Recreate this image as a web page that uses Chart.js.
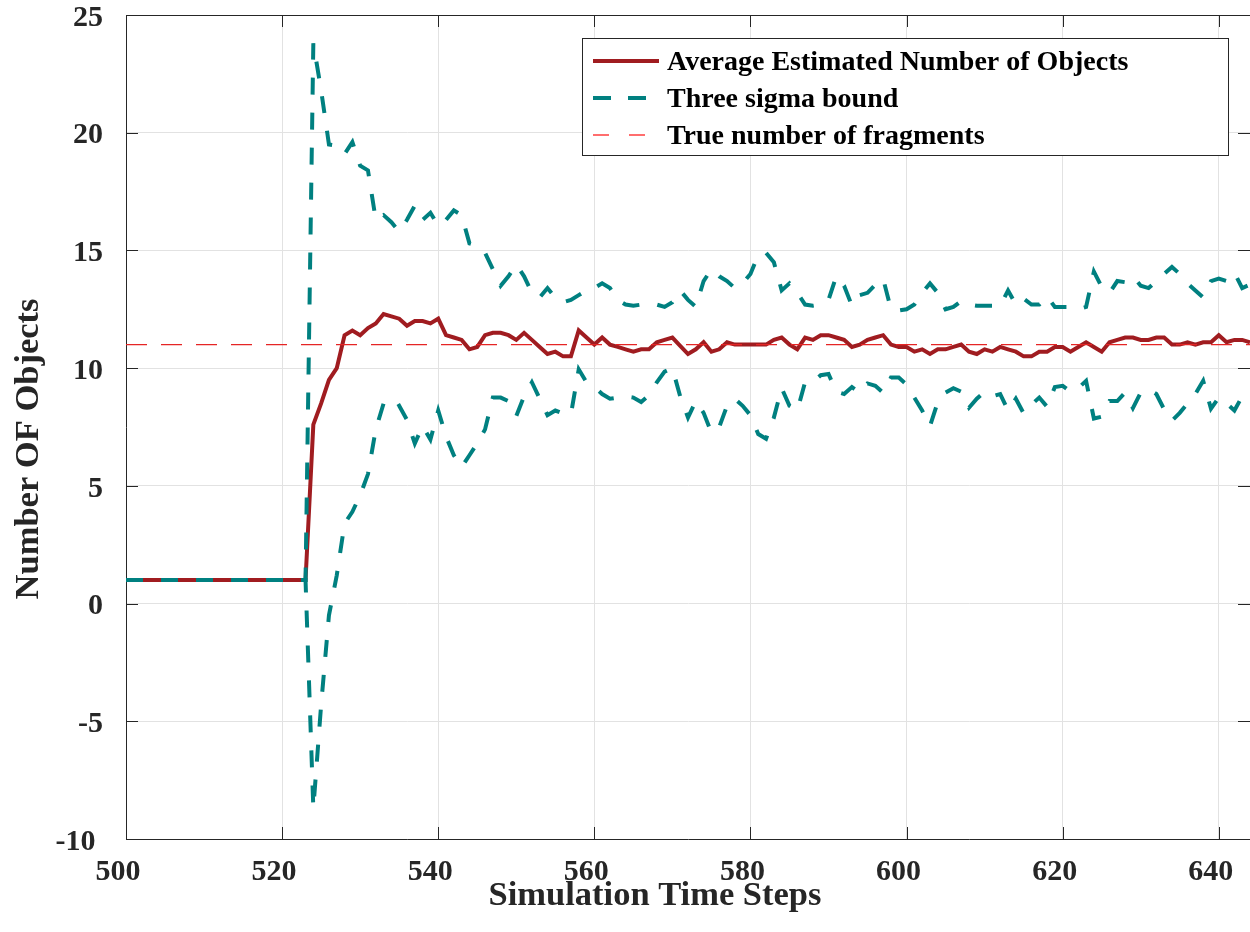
<!DOCTYPE html>
<html><head><meta charset="utf-8">
<script src="https://cdn.jsdelivr.net/npm/chart.js@4.4.1/dist/chart.umd.min.js"></script>
<style>html,body{margin:0;padding:0;background:#fff;overflow:hidden}canvas{display:block}</style>
</head><body>
<canvas id="c" width="1250" height="932"></canvas>
<script>
const timeSteps = [
500,501,502,503,504,505,506,507,508,509,510,511,512,513,514,515,516,517,518,519,
520,521,522,523,524,525,526,527,528,529,530,531,532,533,534,535,536,537,538,539,
540,541,542,543,544,545,546,547,548,549,550,551,552,553,554,555,556,557,558,559,
560,561,562,563,564,565,566,567,568,569,570,571,572,573,574,575,576,577,578,579,
580,581,582,583,584,585,586,587,588,589,590,591,592,593,594,595,596,597,598,599,
600,601,602,603,604,605,606,607,608,609,610,611,612,613,614,615,616,617,618,619,
620,621,622,623,624,625,626,627,628,629,630,631,632,633,634,635,636,637,638,639,
640,641,642,643,644];

const meanEstimate = [
1,1,1,1,1,1,1,1,1,1,1,1,1,1,1,1,1,1,1,1,
1,1,1,1,7.6,8.5,9.5,10.0,11.4,11.6,11.4,11.7,11.9,12.3,12.2,12.1,11.8,12.0,12.0,11.9,
12.1,11.4,11.3,11.2,10.8,10.9,11.4,11.5,11.5,11.4,11.2,11.5,11.2,10.9,10.6,10.7,10.5,10.5,11.6,11.3,
11.0,11.3,11.0,10.9,10.8,10.7,10.8,10.8,11.1,11.2,11.3,10.95,10.6,10.8,11.1,10.7,10.8,11.1,11.0,11.0,
11.0,11.0,11.0,11.2,11.3,11.0,10.8,11.3,11.2,11.4,11.4,11.3,11.2,10.9,11.0,11.2,11.3,11.4,11.0,10.9,
10.9,10.7,10.8,10.6,10.8,10.8,10.9,11.0,10.7,10.6,10.8,10.7,10.9,10.8,10.7,10.5,10.5,10.7,10.7,10.9,
10.9,10.7,10.9,11.1,10.9,10.7,11.1,11.2,11.3,11.3,11.2,11.2,11.3,11.3,11.0,11.0,11.1,11.0,11.1,11.1,
11.4,11.1,11.2,11.2,11.1];

const upperBound = [
1,1,1,1,1,1,1,1,1,1,1,1,1,1,1,1,1,1,1,1,
1,1,1,1,23.8,21.8,19.5,19.45,19.1,19.6,18.6,18.4,16.3,16.5,16.2,15.8,16.3,16.9,16.3,16.6,
16.05,16.3,16.7,16.5,15.3,15.2,14.9,14.2,13.5,13.9,14.4,13.9,13.2,13.0,13.4,13.0,12.8,12.9,13.1,13.3,
13.4,13.6,13.4,12.9,12.7,12.65,12.7,12.7,12.7,12.6,12.8,13.3,12.9,12.6,13.7,14.2,13.9,13.7,13.4,13.6,
14.0,14.8,14.9,14.5,13.3,13.6,13.2,12.7,12.65,12.7,12.9,13.9,13.5,12.65,13.1,13.2,13.55,13.8,12.5,12.45,
12.5,12.7,13.2,13.6,13.2,12.5,12.6,12.85,12.7,12.65,12.65,12.65,12.65,13.3,12.7,12.95,12.7,12.7,13.05,12.6,
12.6,12.6,12.5,12.6,14.1,13.45,13.2,13.7,13.65,13.9,13.5,13.4,13.7,14.0,14.3,14.0,13.6,13.3,13.0,13.7,
13.8,13.7,14.05,13.4,13.55];

const lowerBound = [
1,1,1,1,1,1,1,1,1,1,1,1,1,1,1,1,1,1,1,1,
1,1,1,1,-8.7,-4.3,-0.5,1.2,3.4,3.9,4.6,5.5,7.4,8.5,8.2,8.4,7.8,6.8,7.55,6.97,
8.2,7.1,6.3,5.8,6.3,6.8,7.4,8.75,8.75,8.6,7.97,8.8,9.4,8.7,8.0,8.2,8.07,8.04,9.95,9.4,
9.2,8.9,8.7,8.75,8.8,8.75,8.56,8.85,9.4,9.85,10.0,8.8,7.9,8.6,8.1,7.26,7.5,8.4,8.7,8.4,
8.0,7.2,7.0,7.9,9.15,8.4,8.2,9.4,9.4,9.7,9.75,9.0,8.9,9.2,8.95,9.35,9.25,8.95,9.6,9.6,
9.3,8.75,8.2,7.54,8.56,8.96,9.15,9.0,8.32,8.7,9.0,8.8,8.9,8.2,8.7,8.08,8.45,8.75,8.36,9.2,
9.25,9.0,9.15,9.46,7.86,7.94,8.6,8.6,8.96,8.3,8.96,9.1,8.9,8.25,7.77,8.1,8.5,8.9,9.46,8.28,
8.75,8.5,8.2,8.8,8.6];

const trueSteps = [500, 644];
const trueCount = [11, 11];

const xTickValues = [500, 520, 540, 560, 580, 600, 620, 640];
const yTickValues = [-10, -5, 0, 5, 10, 15, 20, 25];
const yTickLabels = ['-10', '-5', '0', '5', '10', '15', '20', '25'];

const seriesNames = ['Average Estimated Number of Objects', 'Three sigma bound', 'Three sigma bound (lower)', 'True number of fragments'];
const xTitle = 'Simulation Time Steps';
const yTitle = 'Number OF Objects';

const toPoints = (xs, ys) => ys.map((v, i) => ({x: xs[i], y: v}));

const AXIS = '#262626';
const FONT = 'Liberation Serif';

const framePlugin = {
  id: 'frame',
  beforeDatasetsDraw(chart) {
    const {ctx, chartArea: a, scales: {x, y}} = chart;
    const L = 12;
    ctx.save();
    ctx.strokeStyle = AXIS;
    ctx.lineWidth = 1;
    ctx.beginPath();
    const top = Math.round(a.top) + 0.5;
    ctx.moveTo(a.left, top); ctx.lineTo(a.right, top);
    xTickValues.forEach(v => {
      const px = Math.round(x.getPixelForValue(v)) + 0.5;
      ctx.moveTo(px, a.bottom); ctx.lineTo(px, a.bottom - L);
      ctx.moveTo(px, a.top); ctx.lineTo(px, a.top + L);
    });
    yTickValues.forEach(v => {
      const py = Math.round(y.getPixelForValue(v)) + 0.5;
      ctx.moveTo(a.left, py); ctx.lineTo(a.left + L, py);
      ctx.moveTo(a.right, py); ctx.lineTo(a.right - L, py);
    });
    ctx.stroke();
    ctx.restore();
  }
};

const titlePlugin = {
  id: 'axisTitles',
  afterDraw(chart) {
    const {ctx} = chart;
    ctx.save();
    ctx.fillStyle = AXIS;
    ctx.font = 'bold 34.5px "' + FONT + '"';
    ctx.textAlign = 'center';
    ctx.textBaseline = 'middle';
    ctx.fillText(xTitle, 655, 896);
    ctx.translate(29, 449);
    ctx.rotate(-Math.PI / 2);
    ctx.fillText(yTitle, 0, 0);
    ctx.restore();
  }
};

const legendPlugin = {
  id: 'boxLegend',
  afterDraw(chart) {
    const {ctx} = chart;
    const bx = 582.5, by = 38.5, bw = 646, bh = 117;
    ctx.save();
    ctx.fillStyle = '#fff';
    ctx.fillRect(bx, by, bw, bh);
    ctx.strokeStyle = AXIS;
    ctx.lineWidth = 1;
    ctx.strokeRect(bx, by, bw, bh);
    const rows = [0, 1, 3];
    const rowY = [61, 98, 135];
    ctx.font = 'bold 28px "' + FONT + '"';
    ctx.textBaseline = 'middle';
    ctx.textAlign = 'left';
    rows.forEach((di, r) => {
      const ds = chart.data.datasets[di];
      ctx.beginPath();
      ctx.strokeStyle = ds.legendColor || ds.borderColor;
      ctx.lineWidth = ds.legendWidth || ds.borderWidth;
      ctx.setLineDash(ds.legendDash || []);
      ctx.moveTo(593, rowY[r]); ctx.lineTo(659, rowY[r]);
      ctx.stroke();
      ctx.setLineDash([]);
      ctx.fillStyle = '#000';
      ctx.fillText(ds.label, 667, rowY[r] + 2);
    });
    ctx.restore();
  }
};

new Chart(document.getElementById('c'), {
  type: 'line',
  data: {
    datasets: [
      {label: seriesNames[0], data: toPoints(timeSteps, meanEstimate), borderColor: '#A01C20', borderWidth: 4, order: 4},
      {label: seriesNames[1], data: toPoints(timeSteps, upperBound), borderColor: '#008080', borderWidth: 4, borderDash: [17, 18], legendDash: [18, 17], order: 3},
      {label: seriesNames[2], data: toPoints(timeSteps, lowerBound), borderColor: '#008080', borderWidth: 4, borderDash: [17, 18], order: 2},
      {label: seriesNames[3], data: toPoints(trueSteps, trueCount), borderColor: '#E52525', legendColor: '#FF6E6E', legendWidth: 2, borderWidth: 1.2, borderDash: [21, 14], legendDash: [16, 20], order: 1}
    ]
  },
  options: {
    responsive: false,
    animation: false,
    devicePixelRatio: 1,
    elements: {point: {radius: 0}, line: {tension: 0, fill: false, borderCapStyle: 'butt', borderJoinStyle: 'miter'}},
    layout: {padding: {left: 0, right: 0, top: 15, bottom: 0}},
    plugins: {legend: {display: false}, tooltip: {enabled: false}},
    scales: {
      x: {
        type: 'linear', min: 500, max: 644,
        afterBuildTicks: s => { s.ticks = xTickValues.map(v => ({value: v})); },
        afterFit: s => { s.height = 93; s.paddingLeft = 0; s.paddingRight = 0; },
        grid: {color: '#e2e2e2', lineWidth: 1, drawTicks: false},
        border: {display: true, color: AXIS, width: 1},
        ticks: {padding: 15, labelOffset: -8, color: AXIS, font: {family: FONT, size: 30, weight: 'bold'}, maxRotation: 0, autoSkip: false},
        title: {display: false}
      },
      y: {
        type: 'linear', min: -10, max: 25,
        afterBuildTicks: s => { s.ticks = yTickValues.map(v => ({value: v})); },
        afterFit: s => { s.width = 126; s.paddingTop = 0; s.paddingBottom = 0; },
        grid: {color: '#e2e2e2', lineWidth: 1, drawTicks: false},
        border: {display: true, color: AXIS, width: 1},
        ticks: {
          padding: 23, labelOffset: 3, color: AXIS, font: {family: FONT, size: 30, weight: 'bold'}, autoSkip: false,
          callback: (v) => {
            const lbl = yTickLabels[yTickValues.indexOf(v)];
            return lbl.length > 2 ? lbl + ' ' : lbl;
          }
        },
        title: {display: false}
      }
    }
  },
  plugins: [framePlugin, legendPlugin, titlePlugin]
});
</script>
</body></html>
